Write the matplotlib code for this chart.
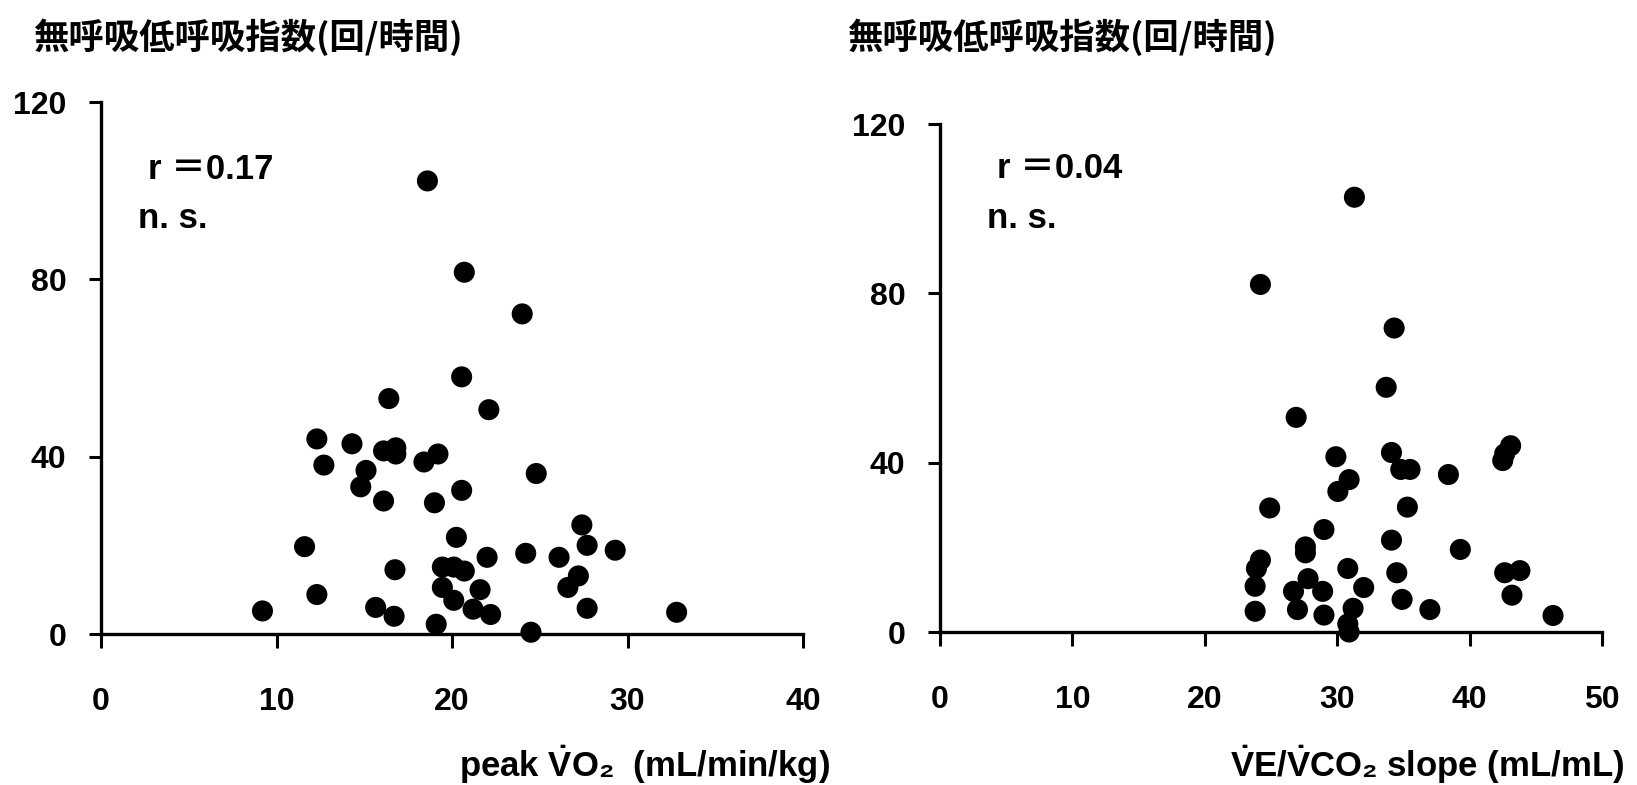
import matplotlib
matplotlib.use("Agg")
import matplotlib.pyplot as plt

# 左: peak VO2 と 無呼吸低呼吸指数
peak_vo2 = [18.6, 20.7, 24.0, 20.55, 16.4, 22.1, 12.3, 14.3, 16.1, 16.8, 16.8, 19.2,
            18.4, 12.7, 15.1, 24.8, 14.8, 20.55, 16.1, 19.0, 27.4, 20.25, 11.6, 27.7,
            29.3, 24.2, 26.1, 22.0, 16.75, 19.45, 20.1, 20.7, 27.2, 26.6, 19.45, 21.6,
            12.3, 20.1, 9.2, 15.65, 16.7, 21.2, 22.2, 27.7, 32.8, 19.1, 24.5]
ahi_left = [102.2, 81.6, 72.2, 58.0, 53.1, 50.6, 44.0, 42.9, 41.3, 42.0, 40.6, 40.6,
            38.8, 38.1, 36.9, 36.2, 33.2, 32.4, 30.0, 29.6, 24.6, 21.8, 19.7, 20.0,
            18.9, 18.2, 17.3, 17.3, 14.5, 15.1, 15.1, 14.2, 13.1, 10.5, 10.5, 10.0,
            8.9, 7.6, 5.2, 6.0, 4.0, 5.6, 4.4, 5.8, 4.9, 2.2, 0.4]

# 右: VE/VCO2 slope と 無呼吸低呼吸指数
ve_vco2 = [31.3, 24.2, 34.3, 33.7, 26.9, 43.1, 42.65, 42.5, 34.1, 29.9, 34.8, 35.5,
           38.4, 30.9, 30.05, 24.9, 35.3, 29.0, 34.1, 27.6, 27.6, 39.3, 24.2, 23.9,
           30.8, 34.5, 42.65, 43.8, 27.8, 23.8, 32.0, 26.7, 28.9, 43.2, 34.9, 23.8,
           27.0, 29.0, 31.2, 37.0, 46.3, 30.8, 30.9]
ahi_right = [102.7, 82.1, 71.8, 57.8, 50.7, 44.0, 42.1, 40.5, 42.4, 41.4, 38.4, 38.4,
             37.2, 36.0, 33.2, 29.3, 29.5, 24.2, 21.7, 20.1, 18.7, 19.5, 17.0, 15.0,
             15.0, 14.0, 14.0, 14.5, 12.6, 10.8, 10.5, 9.6, 9.6, 8.7, 7.7, 4.9,
             5.3, 4.0, 5.6, 5.3, 3.9, 1.9, 0.0]

y_ticks = [0, 40, 80, 120]
x_ticks_left = [0, 10, 20, 30, 40]
x_ticks_right = [0, 10, 20, 30, 40, 50]

title_text = "無呼吸低呼吸指数(回/時間)"
label_left = r"peak $\dot{\mathrm{V}}$O₂  (mL/min/kg)"
label_right = r"$\dot{\mathrm{V}}$E/$\dot{\mathrm{V}}$CO₂ slope (mL/mL)"

plt.rcParams["mathtext.fontset"] = "custom"
plt.rcParams["mathtext.rm"] = "Liberation Sans:bold"
plt.rcParams["mathtext.bf"] = "Liberation Sans:bold"

W, H = 1637, 785
latin = ["Liberation Sans", "DejaVu Sans", "Noto Sans CJK JP"]
cjk = ["Noto Sans CJK JP", "DejaVu Sans"]

fig = plt.figure(figsize=(W / 100, H / 100), dpi=100)


def px(x, y):
    return x / W, 1 - y / H


def make_panel(rect, xs, ys, xticks, r_text, r_pos, ns_pos, title_pos, xlabel, xlabel_pos):
    ax = fig.add_axes(rect)
    ax.scatter(xs, ys, s=230, color="black", edgecolors="none", clip_on=False, zorder=3)
    ax.set_xlim(xticks[0], xticks[-1])
    ax.set_ylim(0, 120)
    ax.set_xticks(xticks)
    ax.set_yticks(y_ticks)
    for s in ["top", "right"]:
        ax.spines[s].set_visible(False)
    for s in ["left", "bottom"]:
        ax.spines[s].set_linewidth(2.4)
    ax.tick_params(axis="x", length=10, width=2.2, pad=28, labelsize=23)
    ax.tick_params(axis="y", length=9, width=2.2, pad=16, labelsize=23)
    for lab in ax.get_xticklabels() + ax.get_yticklabels():
        lab.set_family(latin)
        lab.set_fontweight("bold")
    fig.text(*px(*title_pos), title_text, family=cjk, fontweight="bold",
             fontsize=25.5, va="center", ha="left")
    fig.text(*px(*r_pos), r_text, family=latin, fontweight="bold",
             fontsize=25, va="baseline", ha="left")
    fig.text(*px(*ns_pos), "n. s.", family=latin, fontweight="bold",
             fontsize=25, va="baseline", ha="left")
    fig.text(*px(*xlabel_pos), xlabel, family=latin, fontweight="bold",
             fontsize=25, va="baseline", ha="left")
    return ax


make_panel([101 / W, 1 - 634 / H, 702 / W, 532 / H], peak_vo2, ahi_left, x_ticks_left,
           "r ＝0.17", (148, 179), (138, 228), (33, 37), label_left, (459, 777))
make_panel([940 / W, 1 - 632 / H, 662 / W, 508 / H], ve_vco2, ahi_right, x_ticks_right,
           "r ＝0.04", (997, 178), (987, 228), (847, 37), label_right, (1230, 777))

fig.savefig("out.png", dpi=100)
